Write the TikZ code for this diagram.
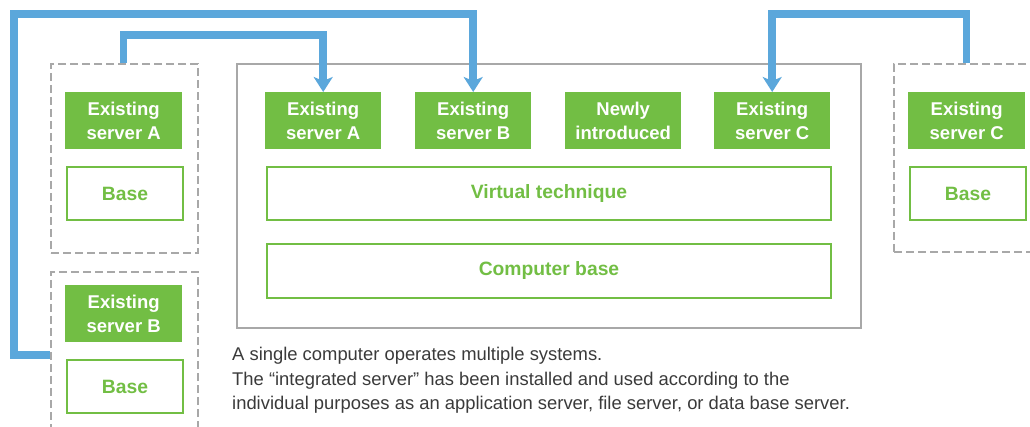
\documentclass[tikz,border=0pt]{standalone}
\usepackage{fontspec}
\setmainfont{Liberation Sans}
\usetikzlibrary{arrows.meta, positioning}
\definecolor{srvgreen}{HTML}{72BE44}
\definecolor{linkblue}{HTML}{5BA7DB}
\definecolor{framegray}{HTML}{A8A8A8}
\definecolor{notegray}{HTML}{3A3A3A}

\begin{document}
\begin{tikzpicture}[
        x=1pt, y=-1pt,
        font=\fontsize{18.5}{24}\selectfont,
        server/.style={fill=srvgreen, text=white, inner sep=0pt, anchor=north west,
                       minimum width=117pt, minimum height=57pt, align=center,
                       font=\fontsize{18.5}{24}\selectfont\bfseries},
        basebox/.style={draw=srvgreen, line width=2pt, text=srvgreen, inner sep=0pt,
                        anchor=north west, minimum width=116pt, minimum height=53pt,
                        font=\fontsize{19.3}{24}\selectfont\bfseries},
        oldsite/.style={draw=framegray, line width=2pt, dash pattern=on 8pt off 4pt,
                        inner sep=0pt, anchor=north west},
        link/.style={draw=linkblue, line width=7.5pt,
                     -{Stealth[length=15pt, width=19pt, inset=4pt]}}
    ]
      \useasboundingbox (0,0) rectangle (1030,427);

      % --- Old separate servers ---
      \node[oldsite, minimum width=147pt, minimum height=189pt] (siteA) at (50,63) {};
      \node[server] (srvAl) at (65,92) {Existing\\server A};
      \node[basebox] (baseA) at (66,166) {Base};

      \node[oldsite, minimum width=147pt, minimum height=190pt] (siteB) at (50,271) {};
      \node[server] (srvBl) at (65,285) {Existing\\server B};
      \node[basebox] (baseB) at (66,359) {Base};

      \node[oldsite, minimum width=170pt, minimum height=188pt] (siteC) at (893,63) {};
      \node[server] (srvCr) at (908,92) {Existing\\server C};
      \node[basebox] (baseC) at (909,166) {Base};

      % --- Integrated server ---
      \node[draw=framegray, line width=2pt, inner sep=0pt, anchor=north west,
            minimum width=624pt, minimum height=264pt] (integ) at (236,63) {};
      \node[server, minimum width=116pt] (srvA) at (265,92) {Existing\\server A};
      \node[server, minimum width=116pt] (srvB) at (415,92) {Existing\\server B};
      \node[server, minimum width=116pt] (srvNew) at (565,92) {Newly\\introduced};
      \node[server, minimum width=116pt] (srvC) at (714,92) {Existing\\server C};
      \node[basebox, minimum width=564pt] (virt) at (266,166) {Virtual technique};
      \node[basebox, minimum width=564pt, minimum height=54pt] (hwbase) at (266,243) {Computer base};

      % --- Migration links ---
      \coordinate (outerturn) at (14,14);
      \draw[link] (siteA.north -| srvAl.north) -- ++(0,-28) -| (srvA.north);
      \draw[link] ([yshift=12pt]siteB.west) -| (outerturn) -| (srvB.north);
      \draw[link] (siteC.north -| srvCr.north) -- ++(0,-49) -| (srvC.north);

      % --- Note ---
      \node[anchor=north west, inner sep=0pt, align=left, text=notegray,
            font=\fontsize{18.4}{24.5}\selectfont] (note) at (232,347)
        {A single computer operates multiple systems.\\
         The “integrated server” has been installed and used according to the\\
         individual purposes as an application server, file server, or data base server.};
    \end{tikzpicture}
\end{document}
